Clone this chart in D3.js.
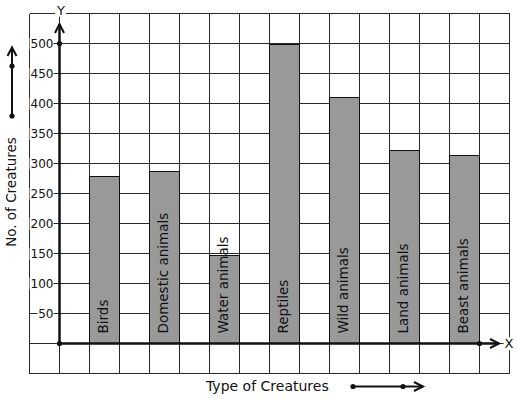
<!DOCTYPE html>
<html>
<head>
<meta charset="utf-8">
<script src="https://cdn.jsdelivr.net/npm/d3@7"></script>
<style>
  html, body { margin: 0; padding: 0; background: #fff; }
  svg { display: block; }
  text { font-family: "DejaVu Sans", sans-serif; fill: #111; }
</style>
</head>
<body>
<svg id="chart" width="517" height="399"></svg>
<script>
const categories = ["Birds", "Domestic animals", "Water animals", "Reptiles", "Wild animals", "Land animals", "Beast animals"];
const values = [278, 286, 147, 498, 410, 321, 313];
const yTicks = [50, 100, 150, 200, 250, 300, 350, 400, 450, 500];
const gridValues = [-50, 0, 50, 100, 150, 200, 250, 300, 350, 400, 450, 500, 550];
const xTitle = "Type of Creatures";
const yTitle = "No. of Creatures";

const svg = d3.select("#chart");
const W = 517, H = 399;

// grid scale (columns of 30px)
const gx = d3.scaleLinear().domain([0, 16]).range([29.5, 509.5]);
const y = d3.scaleLinear().domain([-50, 550]).range([373.5, 13.5]);
const x = d3.scaleBand().domain(categories).range([gx(1.5), gx(15.5)]).paddingInner(0.5).paddingOuter(0.25);

const ink = "#111";

// grid
const grid = svg.append("g").attr("stroke", "#2a2a2a").attr("stroke-width", 1).attr("shape-rendering", "crispEdges");
grid.selectAll("line.v").data(d3.range(0, 17)).join("line")
  .attr("x1", d => gx(d)).attr("x2", d => gx(d))
  .attr("y1", y(550)).attr("y2", y(-50));
grid.selectAll("line.h").data(gridValues).join("line")
  .attr("y1", d => y(d)).attr("y2", d => y(d))
  .attr("x1", gx(0)).attr("x2", gx(16));

// bars
svg.append("g").selectAll("rect").data(values).join("rect")
  .attr("x", (d, i) => x(categories[i]))
  .attr("width", x.bandwidth())
  .attr("y", d => y(d))
  .attr("height", d => y(0) - y(d))
  .attr("fill", "#999999")
  .attr("stroke", ink)
  .attr("stroke-width", 1)
  .attr("shape-rendering", "crispEdges");

// bar labels
svg.append("g").selectAll("text").data(categories).join("text")
  .attr("transform", d => `translate(${x(d) + x.bandwidth() / 2},${y(0) - 10}) rotate(-90)`)
  .attr("dy", "0.26em")
  .attr("font-size", "13.5px")
  .attr("fill", "#1a1a1a")
  .text(d => d);

// tick labels with white background
const tickG = svg.append("g");
yTicks.forEach(t => {
  const g = tickG.append("g");
  const txt = g.append("text")
    .attr("x", gx(1) - 6)
    .attr("y", y(t))
    .attr("dy", "0.36em")
    .attr("text-anchor", "end")
    .attr("font-size", "12px")
    .text(t);
  const bb = txt.node().getBBox();
  g.insert("rect", "text")
    .attr("x", bb.x - 1).attr("y", bb.y + 1)
    .attr("width", bb.width + 1).attr("height", bb.height - 2)
    .attr("fill", "#fff");
});

// axes
const axisW = 2.5;
svg.append("line")
  .attr("x1", gx(1)).attr("x2", gx(1))
  .attr("y1", y(0)).attr("y2", 24)
  .attr("stroke", ink).attr("stroke-width", axisW);
svg.append("path")
  .attr("d", `M${gx(1) - 4.5},33 L${gx(1)},24 L${gx(1) + 4.5},33`)
  .attr("fill", "none").attr("stroke", ink).attr("stroke-width", 2);
svg.append("line")
  .attr("x1", gx(1)).attr("x2", 499)
  .attr("y1", y(0)).attr("y2", y(0))
  .attr("stroke", ink).attr("stroke-width", axisW);
svg.append("path")
  .attr("d", `M490,${y(0) - 4.5} L499,${y(0)} L490,${y(0) + 4.5}`)
  .attr("fill", "none").attr("stroke", ink).attr("stroke-width", 2);

// axis dots
[[gx(1), y(0)], [gx(1), y(500)], [gx(15), y(0)]].forEach(p => {
  svg.append("circle").attr("cx", p[0]).attr("cy", p[1]).attr("r", 2.6).attr("fill", ink);
});

// Y and X letters with white background
function letter(t, cx, cy) {
  const g = svg.append("g");
  const txt = g.append("text").attr("x", cx).attr("y", cy).attr("dy", "0.36em")
    .attr("text-anchor", "middle").attr("font-size", "13px").text(t);
  const bb = txt.node().getBBox();
  g.insert("rect", "text").attr("x", bb.x - 1).attr("y", bb.y + 1)
    .attr("width", bb.width + 2).attr("height", bb.height - 2).attr("fill", "#fff");
}
letter("Y", 61, 10);
letter("X", 509, y(0));

// y title
svg.append("text")
  .attr("transform", `translate(16,192) rotate(-90)`)
  .attr("text-anchor", "middle")
  .attr("font-size", "13.5px")
  .text(yTitle);

// left decorative arrow
svg.append("line").attr("x1", 12).attr("x2", 12).attr("y1", 116).attr("y2", 47.5)
  .attr("stroke", ink).attr("stroke-width", 2);
svg.append("path").attr("d", "M7.5,56 L12,47.5 L16.5,56")
  .attr("fill", "none").attr("stroke", ink).attr("stroke-width", 2);
svg.append("circle").attr("cx", 12).attr("cy", 116).attr("r", 2.6).attr("fill", ink);
svg.append("circle").attr("cx", 12).attr("cy", 66).attr("r", 2.6).attr("fill", ink);

// x title
svg.append("text")
  .attr("x", 206)
  .attr("y", 391)
  .attr("font-size", "14px")
  .text(xTitle);

// bottom decorative arrow
svg.append("line").attr("x1", 353).attr("x2", 423).attr("y1", 386.5).attr("y2", 386.5)
  .attr("stroke", ink).attr("stroke-width", 2);
svg.append("path").attr("d", "M414,382 L423,386.5 L414,391")
  .attr("fill", "none").attr("stroke", ink).attr("stroke-width", 2);
svg.append("circle").attr("cx", 353).attr("cy", 386.5).attr("r", 2.6).attr("fill", ink);
svg.append("circle").attr("cx", 403).attr("cy", 386.5).attr("r", 2.6).attr("fill", ink);
</script>
</body>
</html>
